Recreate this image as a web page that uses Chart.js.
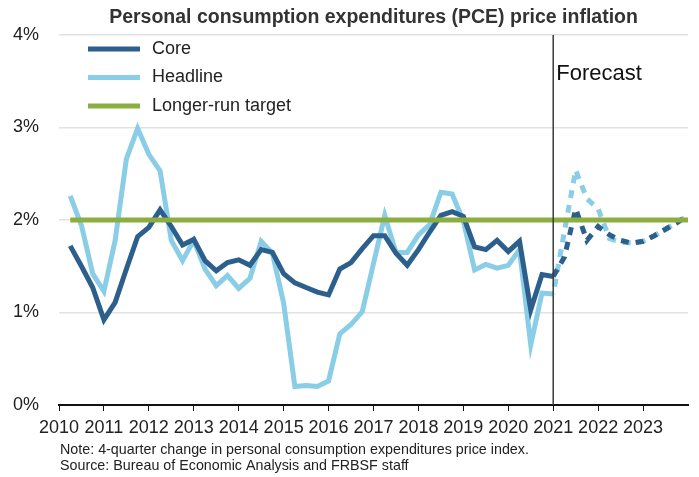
<!DOCTYPE html>
<html>
<head>
<meta charset="utf-8">
<script src="https://cdn.jsdelivr.net/npm/chart.js@4.4.0/dist/chart.umd.min.js"></script>
<style>
  html, body { margin: 0; padding: 0; background: #fff; }
  #wrap { width: 699px; height: 477px; }
</style>
</head>
<body>
<div id="wrap"><canvas id="pceChart"></canvas></div>
<script>
// quarterly data, first value = 2010 Q1 (plotted at quarter end)
var startYear = 2010;
var yearTicks = [2010, 2011, 2012, 2013, 2014, 2015, 2016, 2017, 2018, 2019, 2020, 2021, 2022, 2023];
var forecastYear = 2021;
var targetRate = 2;

var coreActual = [
  1.72, 1.50, 1.27, 0.92, 1.11, 1.47, 1.82, 1.92, 2.11, 1.93, 1.73, 1.79,
  1.56, 1.45, 1.54, 1.57, 1.51, 1.68, 1.65, 1.42, 1.32, 1.27, 1.22, 1.19,
  1.47, 1.54, 1.69, 1.83, 1.83, 1.64, 1.51, 1.68, 1.87, 2.05, 2.09, 2.04,
  1.71, 1.68, 1.78, 1.66, 1.77, 1.03, 1.41, 1.39
];
var headlineActual = [
  2.26, 1.94, 1.42, 1.23, 1.78, 2.66, 2.99, 2.71, 2.53, 1.78, 1.56, 1.78,
  1.47, 1.29, 1.40, 1.26, 1.37, 1.77, 1.64, 1.10, 0.20, 0.21, 0.20, 0.26,
  0.77, 0.87, 1.01, 1.53, 2.05, 1.65, 1.65, 1.84, 1.95, 2.30, 2.28, 1.99,
  1.46, 1.52, 1.48, 1.51, 1.68, 0.65, 1.21, 1.20
];
// forecast starts at the last actual quarter (2020 Q4)
var coreForecast = [1.39, 1.60, 2.12, 1.78, 1.93, 1.84, 1.78, 1.75, 1.77, 1.83, 1.90, 1.97, 2.05];
var headlineForecast = [1.20, 1.88, 2.54, 2.23, 2.12, 1.80, 1.76, 1.75, 1.77, 1.83, 1.90, 1.97, 2.05];

var noteLines = [
  'Note: 4-quarter change in personal consumption expenditures price index.',
  'Source: Bureau of Economic Analysis and FRBSF staff'
];

var coreColor = '#2d5f8d';
var headlineColor = '#89cde6';
var targetColor = '#8cad3f';
var fontFam = '"Liberation Sans", Arial, sans-serif';

function toPoints(values, offset) {
  return values.map(function (v, i) {
    return { x: startYear + (i + offset + 1) / 4, y: v };
  });
}

var nQuarters = coreActual.length + coreForecast.length - 1;
var targetValues = [];
for (var i = 0; i < nQuarters; i++) targetValues.push(targetRate);

var lineBase = { borderWidth: 5, pointRadius: 0, tension: 0, fill: false, borderCapStyle: 'butt', borderJoinStyle: 'miter' };

function ds(label, color, data, extra) {
  var d = Object.assign({ label: label, data: data, borderColor: color, backgroundColor: color }, lineBase);
  return Object.assign(d, extra || {});
}

var decor = {
  id: 'decor',
  afterDatasetsDraw: function (chart) {
    var ctx = chart.ctx;
    var area = chart.chartArea;
    var fx = chart.scales.x.getPixelForValue(forecastYear);
    ctx.save();
    ctx.strokeStyle = '#3c3c3c';
    ctx.lineWidth = 1.5;
    ctx.beginPath();
    ctx.moveTo(fx, area.top);
    ctx.lineTo(fx, area.bottom);
    ctx.stroke();

    ctx.fillStyle = '#111';
    ctx.font = '22px ' + fontFam;
    ctx.textBaseline = 'middle';
    ctx.textAlign = 'left';
    ctx.fillText('Forecast', fx + 3, 74);

    // legend
    var legendItems = chart.data.datasets.slice(0, 3);
    var order = [1, 2, 0];
    ctx.font = '18px ' + fontFam;
    order.forEach(function (k, row) {
      var d = legendItems[k];
      var y = 49 + row * 28.5;
      ctx.strokeStyle = d.borderColor;
      ctx.lineWidth = 5;
      ctx.beginPath();
      ctx.moveTo(88, y);
      ctx.lineTo(140, y);
      ctx.stroke();
      ctx.fillStyle = '#222';
      ctx.fillText(d.label, 152, y);
    });

    // title
    ctx.font = 'bold 19.5px ' + fontFam;
    ctx.fillStyle = '#333';
    ctx.textAlign = 'center';
    ctx.fillText('Personal consumption expenditures (PCE) price inflation', (area.left + area.right) / 2, 18);

    // notes
    ctx.font = '14.3px ' + fontFam;
    ctx.textAlign = 'left';
    ctx.fillStyle = '#222';
    noteLines.forEach(function (t, k) {
      ctx.fillText(t, 60, 450 + k * 16);
    });
    ctx.restore();
  }
};

new Chart(document.getElementById('pceChart'), {
  type: 'line',
  data: {
    datasets: [
      ds('Longer-run target', targetColor, toPoints(targetValues, 0)),
      ds('Core', coreColor, toPoints(coreActual, 0)),
      ds('Headline', headlineColor, toPoints(headlineActual, 0)),
      ds('Core forecast', coreColor, toPoints(coreForecast, coreActual.length - 1), { borderDash: [8, 7] }),
      ds('Headline forecast', headlineColor, toPoints(headlineForecast, headlineActual.length - 1), { borderDash: [8, 7], borderDashOffset: 7.5 })
    ]
  },
  options: {
    responsive: true,
    maintainAspectRatio: false,
    animation: false,
    layout: { padding: { top: 35, right: 11, left: 0, bottom: 0 } },
    plugins: {
      legend: { display: false },
      title: { display: false },
      tooltip: { enabled: false }
    },
    scales: {
      x: {
        type: 'linear',
        min: yearTicks[0],
        max: yearTicks[yearTicks.length - 1] + 1,
        afterFit: function (s) { s.height = 72; },
        afterBuildTicks: function (s) {
          s.ticks = yearTicks.map(function (y) { return { value: y }; });
        },
        ticks: {
          autoSkip: false,
          maxRotation: 0,
          padding: 6,
          color: '#222',
          font: { family: fontFam, size: 18 },
          callback: function (v) { return String(v); }
        },
        grid: { drawOnChartArea: false, drawTicks: true, tickLength: 6, color: '#111', lineWidth: 1 },
        border: { display: true, color: '#111', width: 2 }
      },
      y: {
        min: 0,
        max: 4,
        afterFit: function (s) { s.width = 59; },
        ticks: {
          stepSize: 1,
          padding: 20,
          color: '#222',
          font: { family: fontFam, size: 18 },
          callback: function (v) { return v + '%'; }
        },
        grid: { drawTicks: false, color: '#e2e2e2', lineWidth: 1.5 },
        border: { display: false }
      }
    }
  },
  plugins: [decor]
});
</script>
</body>
</html>
